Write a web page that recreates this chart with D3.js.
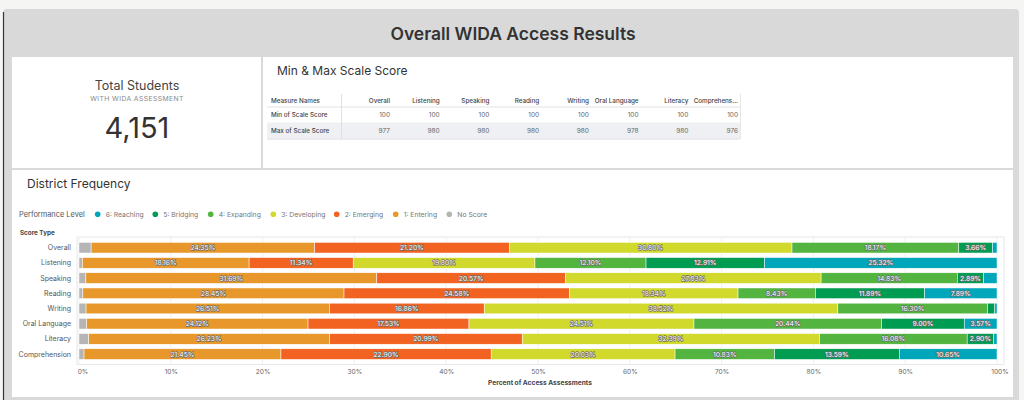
<!DOCTYPE html>
<html>
<head>
<meta charset="utf-8">
<script src="https://cdn.jsdelivr.net/npm/d3@7"></script>
<style>
  body { margin: 0; background: #f5f5f3; font-family: Inter, "Noto Sans", sans-serif; }
  svg text { font-family: Inter, "Noto Sans", sans-serif; }
</style>
</head>
<body>
<div id="dash"></div>
<script>
// ---- data ----
const totalStudents = 4151;

const tableColumns = ['Overall', 'Listening', 'Speaking', 'Reading', 'Writing', 'Oral Language', 'Literacy', 'Comprehens...'];
const minScores = [100, 100, 100, 100, 100, 100, 100, 100];
const maxScores = [977, 980, 980, 980, 980, 978, 980, 976];

const scoreTypes = ['Overall', 'Listening', 'Speaking', 'Reading', 'Writing', 'Oral Language', 'Literacy', 'Comprehension'];
const levels = ['No Score', '1: Entering', '2: Emerging', '3: Developing', '4: Expanding', '5: Bridging', '6: Reaching'];
const legendOrder = ['6: Reaching', '5: Bridging', '4: Expanding', '3: Developing', '2: Emerging', '1: Entering', 'No Score'];

const noScore    = [1.32, 0.37, 0.75, 0.42, 0.77, 0.83, 1.06, 0.55];
const entering   = [24.35, 18.16, 31.69, 28.45, 26.51, 24.12, 26.23, 21.45];
const emerging   = [21.20, 11.34, 20.57, 24.58, 16.86, 17.53, 20.99, 22.90];
const developing = [30.80, 19.80, 27.83, 18.34, 38.52, 24.51, 32.39, 20.03];
const expanding  = [18.17, 12.10, 14.83, 8.43, 16.30, 20.44, 16.08, 10.83];
const bridging   = [3.66, 12.91, 2.89, 11.89, 0.80, 9.00, 2.90, 13.59];
const reaching   = [0.50, 25.32, 1.44, 7.89, 0.24, 3.57, 0.35, 10.65];

const xTicks = [0, 10, 20, 30, 40, 50, 60, 70, 80, 90, 100];

const levelColors = ['#b5b5b5', '#e8982a', '#f26322', '#d0d92c', '#53b540', '#009c52', '#00a6b9'];

// ---- build rows ----
const seriesVals = [noScore, entering, emerging, developing, expanding, bridging, reaching];
const rows = scoreTypes.map((s, i) => {
    const r = { type: s };
    levels.forEach((l, j) => { r[l] = seriesVals[j][i]; });
    return r;
});

const W = 1024, H = 400;
const svg = d3.select('#dash').append('svg')
    .attr('width', W)
    .attr('height', H);

// card + header
svg.append('path')
    .attr('d', 'M3,13 Q3,9 7,9 L1015,9 Q1019,9 1019,13 L1019,400 L3,400 Z')
    .attr('fill', '#d9d9d9');
svg.append('line')
    .attr('x1', 3.5).attr('x2', 3.5).attr('y1', 12).attr('y2', 400)
    .attr('stroke', '#2b3556').attr('stroke-width', 1.2);

svg.append('text')
    .attr('x', 513).attr('y', 40)
    .attr('text-anchor', 'middle')
    .attr('font-size', 17.5)
    .attr('font-weight', 600)
    .attr('fill', '#333')
    .text('Overall WIDA Access Results');

// panels
const panels = [
    { x: 12, y: 57, w: 249, h: 111 },
    { x: 263, y: 57, w: 750, h: 111 },
    { x: 12, y: 170, w: 1001, h: 227 }
];
svg.selectAll('rect.panel')
    .data(panels)
    .enter()
    .append('rect')
    .attr('class', 'panel')
    .attr('x', d => d.x).attr('y', d => d.y)
    .attr('width', d => d.w).attr('height', d => d.h)
    .attr('fill', '#fff');

// ---- total students ----
svg.append('text')
    .attr('x', 137).attr('y', 90)
    .attr('text-anchor', 'middle')
    .attr('font-size', 12.5)
    .attr('fill', '#444')
    .text('Total Students');
svg.append('text')
    .attr('x', 137).attr('y', 101)
    .attr('text-anchor', 'middle')
    .attr('font-size', 6.8)
    .attr('letter-spacing', 0.4)
    .attr('fill', '#888')
    .text('WITH WIDA ASSESSMENT');
svg.append('text')
    .attr('x', 137).attr('y', 138)
    .attr('text-anchor', 'middle')
    .attr('font-size', 29)
    .attr('fill', '#333')
    .text(d3.format(',')(totalStudents));

// ---- min & max table ----
svg.append('text')
    .attr('x', 277).attr('y', 75)
    .attr('font-size', 12)
    .attr('fill', '#333')
    .text('Min & Max Scale Score');

const tbl = svg.append('g');
const colRight = d3.scalePoint()
    .domain(tableColumns)
    .range([390, 738]);

tbl.append('rect')
    .attr('x', 267).attr('y', 122.5)
    .attr('width', 473).attr('height', 16)
    .attr('fill', '#eef0f3');
tbl.append('line')
    .attr('x1', 267).attr('x2', 740).attr('y1', 107).attr('y2', 107)
    .attr('stroke', '#e2e2e2');
tbl.append('line')
    .attr('x1', 267).attr('x2', 740).attr('y1', 139).attr('y2', 139)
    .attr('stroke', '#dcdcdc');
tbl.append('line')
    .attr('x1', 341.5).attr('x2', 341.5).attr('y1', 94).attr('y2', 139)
    .attr('stroke', '#e0e0e0');
tbl.append('line')
    .attr('x1', 740.5).attr('x2', 740.5).attr('y1', 94).attr('y2', 139)
    .attr('stroke', '#e6e6e6');

const rowNames = ['Measure Names', 'Min of Scale Score', 'Max of Scale Score'];
const rowY = [103, 117, 133];
tbl.selectAll('text.rname')
    .data(rowNames)
    .enter()
    .append('text')
    .attr('class', 'rname')
    .attr('x', 271)
    .attr('y', (d, i) => rowY[i])
    .attr('font-size', 6.3)
    .attr('font-weight', 500)
    .attr('fill', '#444')
    .text(d => d);

tbl.selectAll('text.colh')
    .data(tableColumns)
    .enter()
    .append('text')
    .attr('class', 'colh')
    .attr('x', d => colRight(d))
    .attr('y', rowY[0])
    .attr('text-anchor', 'end')
    .attr('font-size', 6.3)
    .attr('font-weight', 500)
    .attr('fill', '#444')
    .text(d => d);

[minScores, maxScores].forEach((vals, k) => {
    tbl.selectAll('text.v' + k)
        .data(vals)
        .enter()
        .append('text')
        .attr('class', 'v' + k)
        .attr('x', (d, i) => colRight(tableColumns[i]))
        .attr('y', rowY[k + 1])
        .attr('text-anchor', 'end')
        .attr('font-size', 6.5)
        .attr('fill', '#666')
        .text(d => d);
});

// ---- district frequency ----
svg.append('text')
    .attr('x', 27).attr('y', 188)
    .attr('font-size', 12)
    .attr('fill', '#333')
    .text('District Frequency');

svg.append('text')
    .attr('x', 19).attr('y', 217)
    .attr('font-size', 7.4)
    .attr('fill', '#555')
    .text('Performance Level');

const color = d3.scaleOrdinal()
    .domain(levels)
    .range(levelColors);

const legendX = [97.7, 155.3, 210.7, 273.3, 336.7, 395.7, 449.3];
const legend = svg.selectAll('.legend')
    .data(legendOrder)
    .enter()
    .append('g')
    .attr('class', 'legend')
    .attr('transform', (d, i) => `translate(${legendX[i]}, 214.3)`);
legend.append('circle')
    .attr('r', 2.8)
    .attr('fill', d => color(d));
legend.append('text')
    .attr('x', 8)
    .attr('y', 2.5)
    .attr('font-size', 6.8)
    .attr('fill', '#777')
    .text(d => d);

svg.append('text')
    .attr('x', 20).attr('y', 234.5)
    .attr('font-size', 6.3)
    .attr('font-weight', 700)
    .attr('fill', '#444')
    .text('Score Type');

const x = d3.scaleLinear()
    .domain([0, 100])
    .range([79, 997]);
const y = d3.scaleBand()
    .domain(scoreTypes)
    .range([240.1, 361.7])
    .paddingInner(0.3)
    .paddingOuter(0.15);

// frame + grid
const plot = svg.append('g');
plot.append('rect')
    .attr('x', 77).attr('y', 237)
    .attr('width', 927).attr('height', 127.5)
    .attr('fill', 'none')
    .attr('stroke', '#e8e8e8');
plot.selectAll('line.grid')
    .data(xTicks)
    .enter()
    .append('line')
    .attr('class', 'grid')
    .attr('x1', d => x(d)).attr('x2', d => x(d))
    .attr('y1', 237).attr('y2', 364.5)
    .attr('stroke', '#efefef');

const stack = d3.stack().keys(levels);
const layers = stack(rows);

const layer = plot.selectAll('g.layer')
    .data(layers)
    .enter()
    .append('g')
    .attr('class', 'layer')
    .attr('fill', d => color(d.key));

layer.selectAll('rect')
    .data(d => d)
    .enter()
    .append('rect')
    .attr('x', d => x(d[0]))
    .attr('y', d => y(d.data.type))
    .attr('width', d => x(d[1]) - x(d[0]))
    .attr('height', y.bandwidth())
    .attr('stroke', '#fff')
    .attr('stroke-width', 0.5);

const labelData = [];
layers.forEach(l => {
    if (l.key === 'No Score') return;
    l.forEach(d => {
        const v = d[1] - d[0];
        if (v >= 2.5) labelData.push({ v, mid: (d[0] + d[1]) / 2, type: d.data.type });
    });
});

plot.selectAll('text.lbl')
    .data(labelData)
    .enter()
    .append('text')
    .attr('class', 'lbl')
    .attr('x', d => x(d.mid))
    .attr('y', d => y(d.type) + y.bandwidth() / 2 + 2.4)
    .attr('text-anchor', 'middle')
    .attr('font-size', 6.8)
    .attr('fill', '#fff')
    .attr('stroke', '#6b6b6b')
    .attr('stroke-width', 1.3)
    .attr('paint-order', 'stroke')
    .attr('stroke-linejoin', 'round')
    .text(d => d.v.toFixed(2) + '%');

// row labels
plot.selectAll('text.row')
    .data(scoreTypes)
    .enter()
    .append('text')
    .attr('class', 'row')
    .attr('x', 71)
    .attr('y', d => y(d) + y.bandwidth() / 2 + 2.5)
    .attr('text-anchor', 'end')
    .attr('font-size', 7)
    .attr('fill', '#555')
    .text(d => d);

// x axis
const xAxis = d3.axisBottom(x)
    .tickValues(xTicks)
    .tickSize(0)
    .tickFormat(d => d + '%');
const ax = svg.append('g')
    .attr('transform', 'translate(0, 366)')
    .call(xAxis);
ax.select('.domain').remove();
ax.selectAll('text')
    .attr('font-size', 6.6)
    .attr('fill', '#666')
    .attr('font-family', 'Inter, sans-serif');
ax.selectAll('text').filter(d => d === 0).attr('dx', 3.5);
ax.selectAll('text').filter(d => d === 100).attr('dx', 2.5);

svg.append('text')
    .attr('x', 540).attr('y', 385)
    .attr('text-anchor', 'middle')
    .attr('font-size', 6.6)
    .attr('font-weight', 700)
    .attr('fill', '#444')
    .text('Percent of Access Assessments');
</script>
</body>
</html>
